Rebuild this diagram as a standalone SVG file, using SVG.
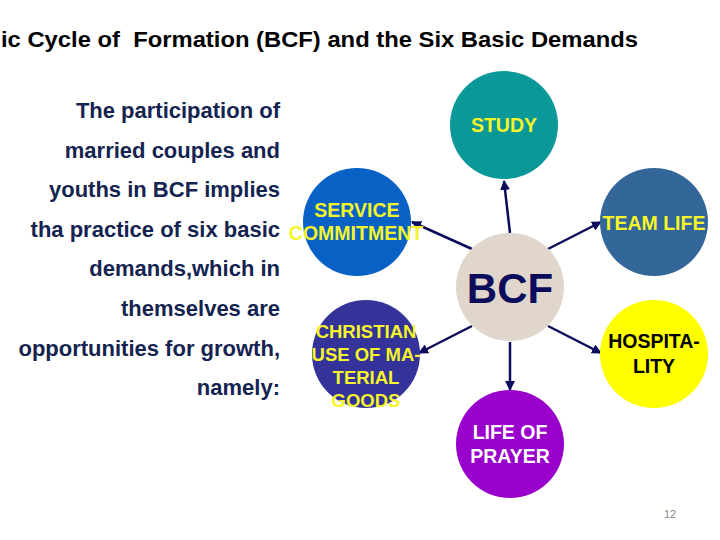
<svg xmlns="http://www.w3.org/2000/svg" width="720" height="540" viewBox="0 0 720 540">
  <style>
    .title { font-family: "Liberation Sans", Arial, sans-serif; font-weight: bold; font-size: 22px; fill: #000; }
    .intro { font-family: "Liberation Sans", Arial, sans-serif; font-weight: bold; font-size: 22px; fill: #14234f; text-anchor: end; }
    .lbl { font-family: "Liberation Sans", Arial, sans-serif; font-weight: bold; font-size: 19.5px; text-anchor: middle; }
    .yel { fill: #f5f52a; }
    .conn { stroke: #0c0c5c; stroke-width: 2.5; fill: none; marker-end: url(#ah); }
  </style>
  <defs>
    <marker id="ah" viewBox="0 0 10 10" refX="9" refY="5" markerWidth="4" markerHeight="4" orient="auto" markerUnits="strokeWidth">
      <path d="M0,0 L10,5 L0,10 Z" fill="#0c0c5c"/>
    </marker>
  </defs>
  <rect width="720" height="540" fill="#fff"/>
  <text class="title" x="1" y="47" xml:space="preserve" textLength="637" lengthAdjust="spacingAndGlyphs">ic Cycle of  Formation (BCF) and the Six Basic Demands</text>

  <g id="intro">
    <text class="intro" x="280" y="118">The participation of</text>
    <text class="intro" x="280" y="158">married couples and</text>
    <text class="intro" x="280" y="197">youths in BCF implies</text>
    <text class="intro" x="280" y="237">tha practice of six basic</text>
    <text class="intro" x="280" y="276">demands,which in</text>
    <text class="intro" x="280" y="316">themselves are</text>
    <text class="intro" x="280" y="356">opportunities for growth,</text>
    <text class="intro" x="280" y="395">namely:</text>
  </g>

  <g id="connectors">
    <line class="conn" x1="510" y1="233" x2="504" y2="181"/>
    <line class="conn" x1="472" y1="249" x2="412" y2="222"/>
    <line class="conn" x1="548" y1="249" x2="601" y2="222"/>
    <line class="conn" x1="472" y1="326" x2="419" y2="353"/>
    <line class="conn" x1="548" y1="326" x2="601" y2="353"/>
    <line class="conn" x1="510" y1="342" x2="510" y2="390"/>
  </g>

  <g id="study">
    <circle cx="504" cy="125" r="54" fill="#0a9898"/>
    <text class="lbl yel" x="504" y="132">STUDY</text>
  </g>
  <g id="service">
    <circle cx="357" cy="222" r="54" fill="#0862c6"/>
    <text class="lbl yel" x="357" y="217">SERVICE</text>
    <text class="lbl yel" x="356" y="240">COMMITMENT</text>
  </g>
  <g id="teamlife">
    <circle cx="654" cy="222" r="54" fill="#336699"/>
    <text class="lbl yel" x="654" y="230">TEAM LIFE</text>
  </g>
  <g id="bcf">
    <circle cx="510" cy="287" r="54" fill="#e0d6cb"/>
    <text x="510" y="303" text-anchor="middle" font-family="Liberation Sans, Arial, sans-serif" font-weight="bold" font-size="42" fill="#0c0c5c">BCF</text>
  </g>
  <g id="christian">
    <circle cx="366" cy="354" r="54" fill="#333399"/>
    <text class="lbl yel" x="366" y="338" style="font-size:18.5px">CHRISTIAN</text>
    <text class="lbl yel" x="366" y="361" style="font-size:18.5px">USE OF MA-</text>
    <text class="lbl yel" x="366" y="384" style="font-size:18.5px">TERIAL</text>
    <text class="lbl yel" x="366" y="407" style="font-size:18.5px">GOODS</text>
  </g>
  <g id="hospitality">
    <circle cx="654" cy="354" r="54" fill="#ffff00"/>
    <text class="lbl" x="654" y="348" fill="#000">HOSPITA-</text>
    <text class="lbl" x="654" y="373" fill="#000">LITY</text>
  </g>
  <g id="prayer">
    <circle cx="510" cy="444" r="54" fill="#9900cc"/>
    <text class="lbl" x="510" y="439" fill="#fff">LIFE OF</text>
    <text class="lbl" x="510" y="463" fill="#fff">PRAYER</text>
  </g>
  <text x="670" y="518" text-anchor="middle" font-family="Liberation Sans, Arial, sans-serif" font-size="11" fill="#888">12</text>
</svg>
